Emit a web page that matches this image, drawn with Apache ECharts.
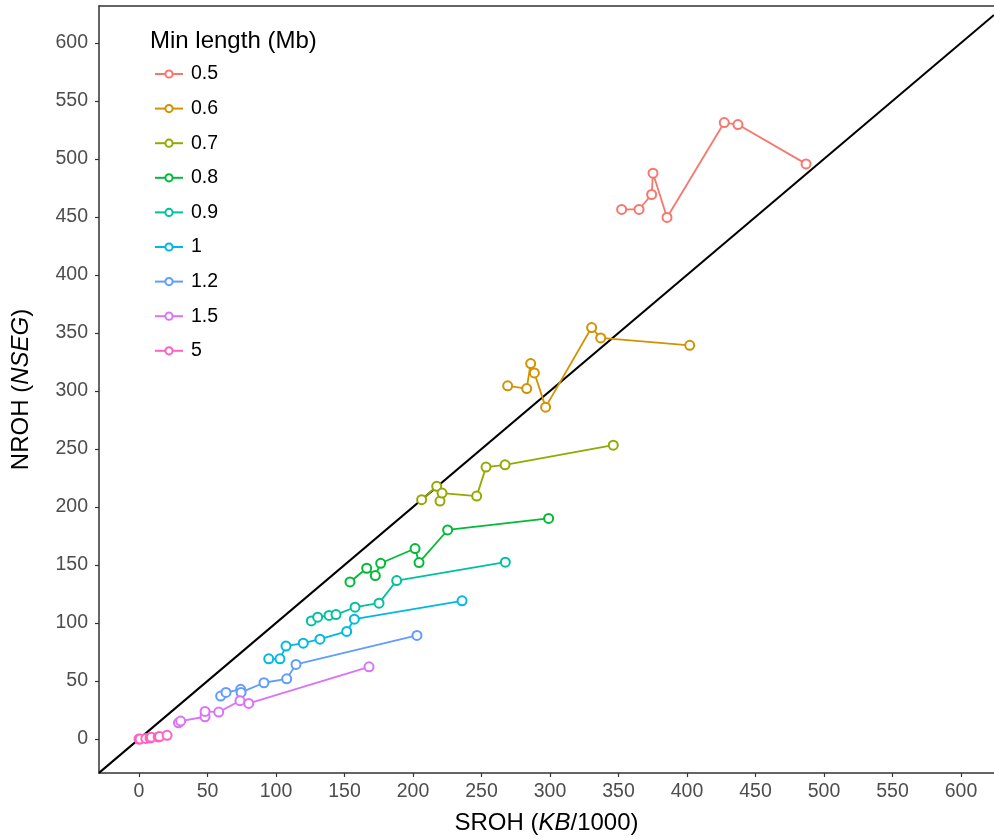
<!DOCTYPE html>
<html>
<head>
<meta charset="utf-8">
<script src="https://cdn.jsdelivr.net/npm/echarts@6/dist/echarts.min.js"></script>
<style>
html,body{margin:0;padding:0;background:#fff;}
#chart{width:994px;height:840px;}
</style>
</head>
<body>
<div id="chart"></div>
<script>
// Category names (Min length, Mb)
const categories = ['0.5','0.6','0.7','0.8','0.9','1','1.2','1.5','5'];
const colors = ['#F8766D','#D39200','#93AA00','#00BA38','#00C19F','#00B9E3','#619CFF','#DB72FB','#FF61C3'];
// [SROH (KB/1000), NROH (NSEG)]
const s05 = [[352.3,456.5],[365,456.5],[374.2,469.4],[375.2,487.8],[385.4,449.6],[427.2,531.4],[437.2,529.7],[486.9,495.8]];
const s06 = [[269.1,304.5],[283,302.1],[285.9,323.7],[288.6,315.6],[296.8,286.1],[330.4,354.7],[337,345.8],[402,339.4]];
const s07 = [[206.3,206.3],[217.3,217.8],[219.7,205.1],[221.2,212],[246.5,209.4],[253.3,234.4],[267.2,236.4],[346.2,253.3]];
const s08 = [[154,135.4],[166.2,147.2],[172.5,140.9],[176.4,151.5],[201.5,164.2],[204.4,152.1],[225.3,180.2],[299,190.2]];
const s09 = [[125.8,101.8],[130.4,105],[138.7,106.5],[143.8,107.3],[157.7,113.6],[175.2,117.1],[188.1,136.6],[267.4,152.4]];
const s10 = [[94.7,69.1],[102.9,69.1],[107.3,80.1],[119.9,82.6],[132.1,86.1],[151.6,92.7],[157.2,103.3],[235.8,119.1]];
const s12 = [[59.6,37],[63.5,40.2],[74.2,42.8],[74.5,40.2],[91.2,48.5],[107.8,51.9],[114.6,64.3],[202.9,89.3]];
const s15 = [[28.8,14],[30.4,15.5],[48.2,19.2],[48.2,23.8],[58.2,23.2],[73.7,33],[80.1,30.7],[167.9,62.2]];
const s50 = [[0,0],[0.8,0],[5,0.5],[8,0.8],[9,1.5],[14,1.8],[15,2.1],[20.5,3.2]];
const seriesData = [s05,s06,s07,s08,s09,s10,s12,s15,s50];
const tickValues = [0,50,100,150,200,250,300,350,400,450,500,550,600];
const xMin = -29.2, xMax = 624.1, yMin = -29.3, yMax = 631.9;

const FONT = '"Liberation Sans", Arial, sans-serif';
const TICK_FS = 19.5, TITLE_FS = 24;
const chart = echarts.init(document.getElementById('chart'));

const series = categories.map((c, i) => ({
  name: c,
  type: 'line',
  data: seriesData[i],
  symbol: 'emptyCircle',
  symbolSize: 9,
  showAllSymbol: true,
  itemStyle: {color: colors[i], borderWidth: 1.3},
  lineStyle: {color: colors[i], width: 1.8},
  emphasis: {disabled: true},
  z: 3
}));
series.unshift({
  name: 'diag',
  type: 'line',
  data: [[xMin, xMin], [xMax, xMax]],
  symbol: 'none',
  lineStyle: {color: '#000', width: 2},
  silent: true,
  z: 2
});

const axisCommon = {
  type: 'value',
  splitLine: {show: false},
  axisLine: {show: true, onZero: false, lineStyle: {color: '#333', width: 1.5}},
  axisTick: {show: true, length: 4, lineStyle: {color: '#333', width: 1.2}, customValues: tickValues},
  axisLabel: {color: '#4D4D4D', fontSize: TICK_FS, fontFamily: FONT, margin: 9, customValues: tickValues}
};
const nameRich = {
  n: {fontSize: TITLE_FS, color: '#000', fontFamily: FONT},
  i: {fontSize: TITLE_FS, color: '#000', fontFamily: FONT, fontStyle: 'italic'}
};

chart.setOption({
  animation: false,
  backgroundColor: '#fff',
  title: {
    text: 'Min length (Mb)',
    left: 145, top: 24,
    textStyle: {fontSize: TITLE_FS, fontWeight: 'normal', color: '#000', fontFamily: FONT}
  },
  legend: {
    data: categories,
    orient: 'vertical',
    left: 149, top: 59,
    itemWidth: 28, itemHeight: 9, itemGap: 14.6,
    textStyle: {fontSize: TICK_FS, lineHeight: 20, color: '#000', fontFamily: FONT, padding: [0,0,0,3]},
    selectedMode: false
  },
  grid: {left: 99, right: 0, top: 6, bottom: 67, containLabel: false},
  xAxis: [
    Object.assign({}, axisCommon, {
      min: xMin, max: xMax,
      name: '{n|SROH (}{i|KB}{n|/1000)}',
      nameLocation: 'middle', nameGap: 38,
      nameTextStyle: {rich: nameRich}
    }),
    {type: 'value', position: 'top', min: xMin, max: xMax,
     axisLine: {show: true, onZero: false, lineStyle: {color: '#333', width: 1.5}},
     axisTick: {show: false}, axisLabel: {show: false}, splitLine: {show: false}}
  ],
  yAxis: Object.assign({}, axisCommon, {
    min: yMin, max: yMax,
    axisLabel: Object.assign({}, axisCommon.axisLabel, {margin: 11}),
    name: '{n|NROH (}{i|NSEG}{n|)}',
    nameLocation: 'middle', nameGap: 66, nameRotate: 90,
    nameTextStyle: {rich: nameRich}
  }),
  series: series
});
</script>
</body>
</html>
